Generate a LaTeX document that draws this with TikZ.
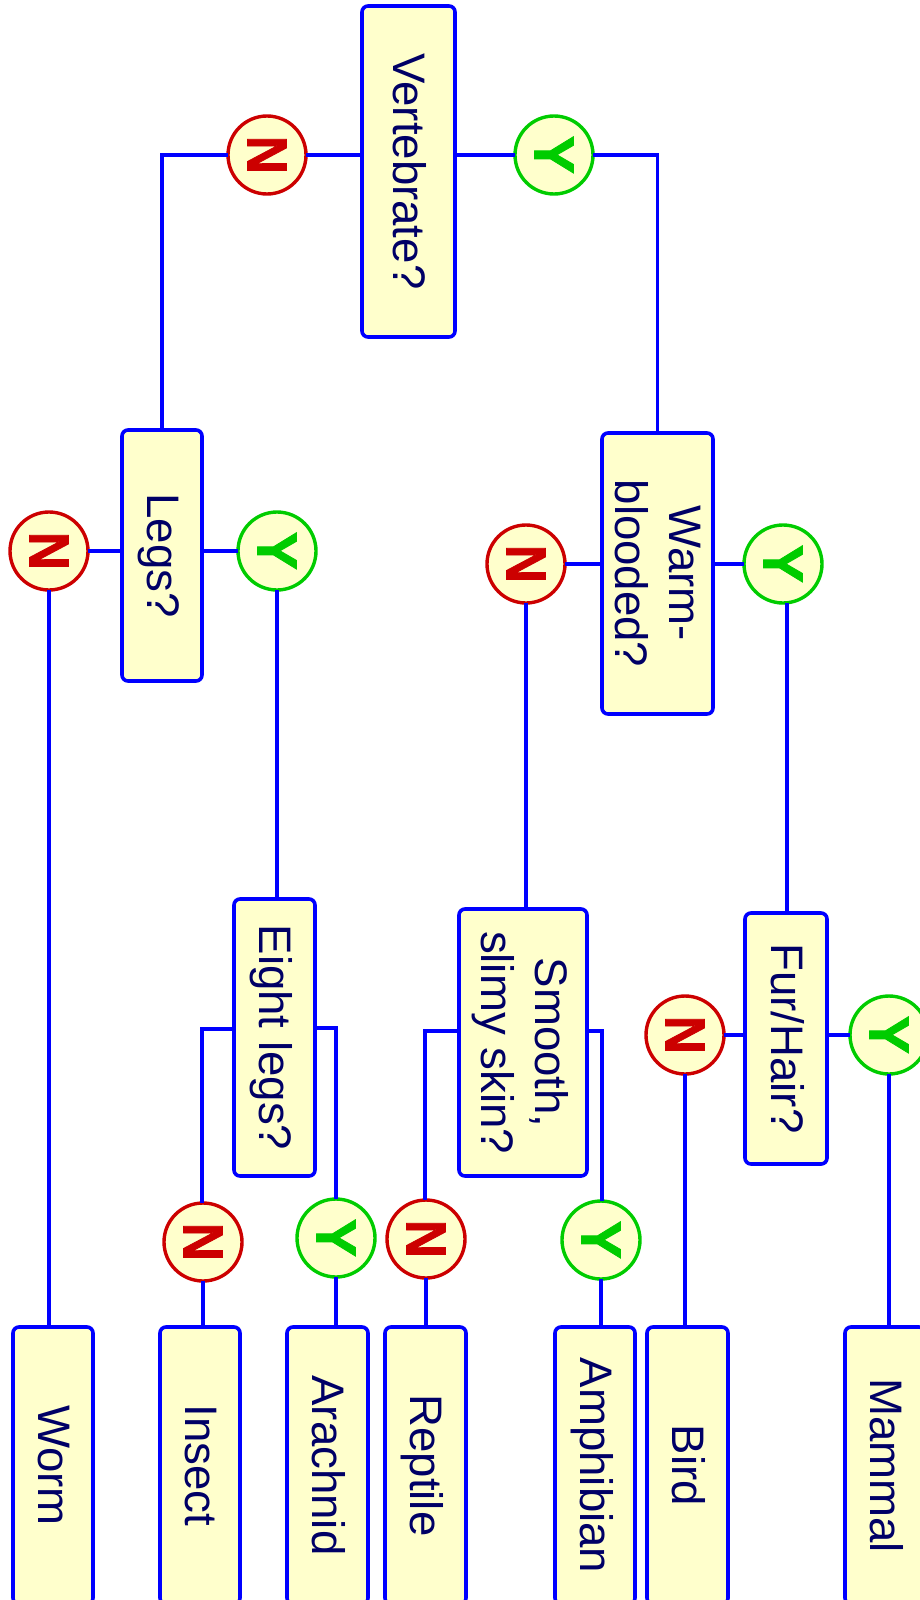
\documentclass[tikz,border=0pt]{standalone}
\usepackage{fontspec}
\setmainfont{Liberation Sans}
\newfontfamily\markfont[FakeBold=1.5]{Liberation Sans Bold}
\definecolor{cfill}{HTML}{FFFFCC}
\definecolor{cblue}{HTML}{0000FF}
\definecolor{cred}{HTML}{CC0000}
\definecolor{cgreen}{HTML}{00CC00}
\definecolor{ctext}{HTML}{000066}
\newcommand{\boxtext}[1]{\kern-2pt\rotatebox[origin=c]{-90}{\begin{tabular}{@{}c@{}}#1\end{tabular}}\kern2pt}
\newcommand{\nlabel}{\rotatebox[origin=c]{-90}{\scalebox{1.2}[1.28]{\markfont N}}}
\newcommand{\ylabel}{\rotatebox[origin=c]{-90}{\scalebox{1.3}[1.28]{\markfont Y}}}
\tikzset{
  qbox/.style 2 args={draw=cblue,fill=cfill,line width=1.8pt,rounded corners=3pt,inner sep=0pt,outer sep=0pt,
    text=ctext,font=\fontsize{22.8}{27}\selectfont,minimum width=#1*0.5pt,minimum height=#2*0.5pt},
  nmark/.style={circle,draw=cred,fill=cfill,line width=1.7pt,inner sep=0pt,outer sep=0pt,minimum size=39pt,
    text=cred,font=\fontsize{22}{24}\selectfont},
  ymark/.style={nmark,draw=cgreen,text=cgreen},
  wire/.style={draw=cblue,line width=1.7pt}
}
\begin{document}
\begin{tikzpicture}[x=0.5pt,y=-0.5pt]
\useasboundingbox (0,0) rectangle (920,1600);
\clip (0,0) rectangle (920,1600);
% questions
\node[qbox={93}{331}] (vert) at (408.5,171.5) {\boxtext{Vertebrate?}};
\node[qbox={80}{251}] (legs) at (162,555.5) {\boxtext{Legs?}};
\node[qbox={111}{281}] (warm) at (657.5,573.5) {\boxtext{Warm-\\blooded?}};
\node[qbox={81}{277}] (eight) at (274.5,1037.5) {\boxtext{Eight legs?}};
\node[qbox={128}{267}] (smooth) at (523,1042.5) {\boxtext{Smooth,\\slimy skin?}};
\node[qbox={82}{251}] (fur) at (786,1038.5) {\boxtext{Fur/Hair?}};
% leaves
\node[qbox={80}{277}] (worm) at (53,1465.5) {\boxtext{Worm}};
\node[qbox={80}{277}] (insect) at (200,1465.5) {\boxtext{Insect}};
\node[qbox={81}{277}] (arachnid) at (327.5,1465.5) {\boxtext{Arachnid}};
\node[qbox={81}{277}] (reptile) at (425.5,1465.5) {\boxtext{Reptile}};
\node[qbox={80}{277}] (amphibian) at (595,1465.5) {\boxtext{Amphibian}};
\node[qbox={81}{277}] (bird) at (687.5,1465.5) {\boxtext{Bird}};
\node[qbox={80}{277}] (mammal) at (885,1465.5) {\boxtext{Mammal}};
% answers
\node[nmark] (vn) at (267,155) {\nlabel};
\node[ymark] (vy) at (554,155) {\ylabel};
\node[nmark] (ln) at (49,551) {\nlabel};
\node[ymark] (ly) at (277,551) {\ylabel};
\node[nmark] (wn) at (526,564) {\nlabel};
\node[ymark] (wy) at (783,564) {\ylabel};
\node[nmark] (fn) at (685,1035) {\nlabel};
\node[ymark] (fy) at (889,1035) {\ylabel};
\node[nmark] (en) at (203,1242) {\nlabel};
\node[ymark] (ey) at (336,1238) {\ylabel};
\node[nmark] (sn) at (426,1239) {\nlabel};
\node[ymark] (sy) at (601,1240) {\ylabel};
% helper points
\coordinate (e1) at (202,1029);
\coordinate (e2) at (336,1028);
\coordinate (s1) at (425,1031);
\coordinate (s2) at (602,1031);
% connectors
\draw[wire] (vert.west |- vn) -- (vn);
\draw[wire] (vn) -| (legs.north);
\draw[wire] (vert.east |- vy) -- (vy);
\draw[wire] (vy) -| (warm.north);
\draw[wire] (legs.west |- ln) -- (ln);
\draw[wire] (legs.east |- ly) -- (ly);
\draw[wire] (ln) -- (ln |- worm.north);
\draw[wire] (ly) -- (ly |- eight.north);
\draw[wire] (warm.west |- wn) -- (wn);
\draw[wire] (warm.east |- wy) -- (wy);
\draw[wire] (wn) -- (wn |- smooth.north);
\draw[wire] ([xshift=2pt]wy.south) -- ([xshift=2pt]wy |- fur.north);
\draw[wire] (fur.west |- fn) -- (fn);
\draw[wire] (fur.east |- fy) -- (fy);
\draw[wire] (fn) -- (fn |- bird.north);
\draw[wire] (fy) -- (fy |- mammal.north);
\draw[wire] (eight.west |- e1) -- (e1) -- (e1 |- en.north);
\draw[wire] (eight.east |- e2) -- (e2) -- (ey);
\draw[wire] (en) -- (en |- insect.north);
\draw[wire] (ey) -- (ey |- arachnid.north);
\draw[wire] (smooth.west |- s1) -- (s1) -- (s1 |- sn.north);
\draw[wire] (smooth.east |- s2) -- (s2) -- (s2 |- sy.north);
\draw[wire] (sn) -- (sn |- reptile.north);
\draw[wire] (sy) -- (sy |- amphibian.north);
\end{tikzpicture}
\end{document}
